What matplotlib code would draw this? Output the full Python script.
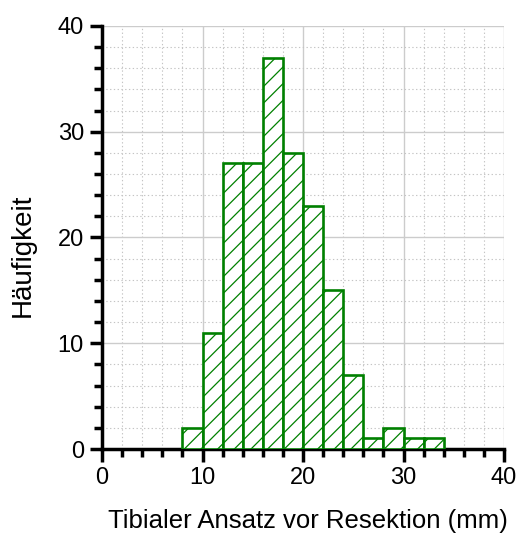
import numpy as np
import matplotlib
matplotlib.use('Agg')
import matplotlib.pyplot as plt
from matplotlib.ticker import MultipleLocator

# histogram bins (mm) and counts
bin_edges = [8, 10, 12, 14, 16, 18, 20, 22, 24, 26, 28, 30, 32, 34]
counts    = [2, 11, 27, 27, 37, 28, 23, 15, 7, 1, 2, 1, 1]

x_label = 'Tibialer Ansatz vor Resektion (mm)'
y_label = 'Häufigkeit'

plt.rcParams['font.family'] = ['Liberation Sans', 'DejaVu Sans']
plt.rcParams['hatch.color'] = '#2e9a2e'
plt.rcParams['hatch.linewidth'] = 0.9

fig = plt.figure(figsize=(5.2, 5.37), dpi=100)
ax = fig.add_axes([102/520, 1 - 449/537, 402/520, 423/537])

lefts = np.array(bin_edges[:-1])
widths = np.diff(bin_edges)
ax.bar(lefts, counts, width=widths, align='edge', facecolor='white',
       edgecolor='green', linewidth=1.9, hatch='//', zorder=3)

ax.set_xlim(0, 40)
ax.set_ylim(0, 40)
ax.xaxis.set_major_locator(MultipleLocator(10))
ax.yaxis.set_major_locator(MultipleLocator(10))
ax.xaxis.set_minor_locator(MultipleLocator(2))
ax.yaxis.set_minor_locator(MultipleLocator(2))

ax.grid(which='major', color='#cccccc', linewidth=1, linestyle='-', zorder=0)
ax.grid(which='minor', color='#c4c4c4', linewidth=0.8, linestyle=(0, (1.2, 2.2)), zorder=0)
ax.set_axisbelow(True)

for s in ['top', 'right']:
    ax.spines[s].set_visible(False)
for s in ['left', 'bottom']:
    ax.spines[s].set_linewidth(2.5)
ax.tick_params(which='major', length=9, width=2.5, labelsize=17, pad=4)
ax.tick_params(which='minor', length=5.5, width=2.5)

ax.set_xlabel(x_label, fontsize=18.5)
ax.set_ylabel(y_label, fontsize=20)
ax.xaxis.set_label_coords(0.512, -0.142)
ax.yaxis.set_label_coords(-0.165, 0.459)

fig.savefig('out.png', dpi=100)
